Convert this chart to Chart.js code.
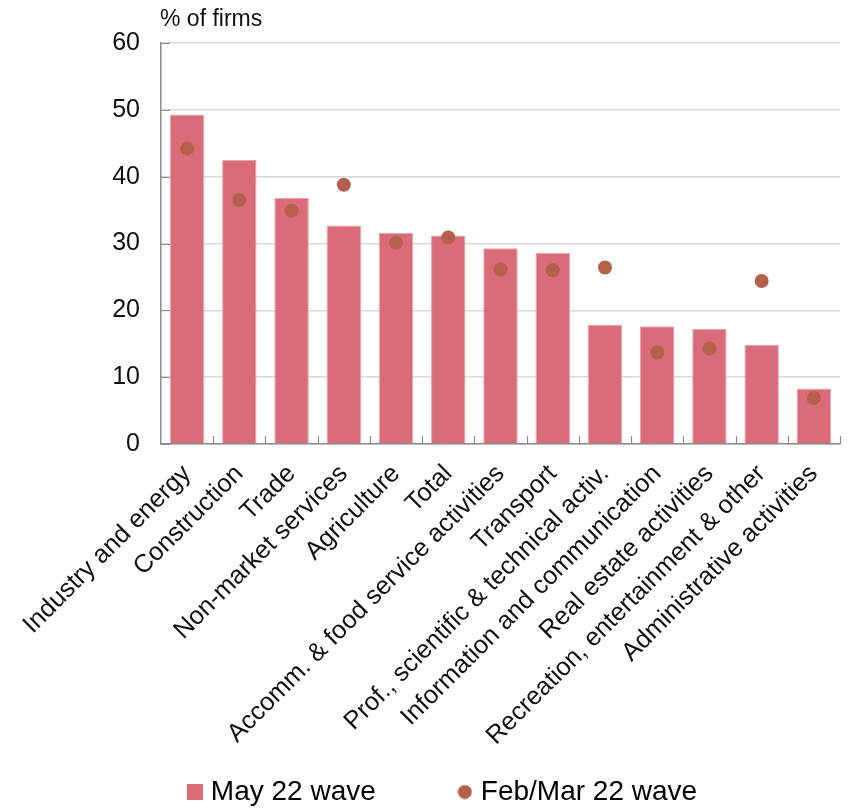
<!DOCTYPE html>
<html>
<head>
<meta charset="utf-8">
<script src="https://cdn.jsdelivr.net/npm/chart.js@4"></script>
<style>
  html, body { margin: 0; padding: 0; background: #ffffff; }
  #wrap { width: 851px; height: 808px; position: relative; }
</style>
</head>
<body>
<div id="wrap"><canvas id="chart" width="851" height="808"></canvas></div>
<script>
// Sectors, sorted by the May 22 share
const categories = [
  "Industry and energy", "Construction", "Trade", "Non-market services",
  "Agriculture", "Total", "Accomm. & food service activities", "Transport",
  "Prof., scientific & technical activ.", "Information and communication",
  "Real estate activities", "Recreation, entertainment & other",
  "Administrative activities"
];
// % of firms, May 22 wave (bars)
const mayWave = [49.3, 42.5, 36.8, 32.7, 31.6, 31.2, 29.3, 28.6, 17.8, 17.6, 17.2, 14.8, 8.3];
// % of firms, Feb/Mar 22 wave (dots)
const febMarWave = [44.2, 36.5, 34.9, 38.8, 30.1, 30.9, 26.1, 26.0, 26.4, 13.7, 14.3, 24.4, 6.9];
// Value axis
const yTicks = [0, 10, 20, 30, 40, 50, 60];
const yUnit = "% of firms";

const BAR = "#da6b78";
const DOT = "#b5604a";
const FONT = "'Liberation Sans', Arial, Helvetica, sans-serif";

// small legend markers
function marker(kind, color) {
  const c = document.createElement("canvas");
  const s = kind === "rect" ? 16 : 15;
  c.width = s; c.height = s;
  const g = c.getContext("2d");
  g.fillStyle = color;
  if (kind === "rect") {
    g.fillRect(0, 0, s, s);
  } else {
    g.beginPath(); g.arc(s / 2, s / 2, s / 2 - 0.5, 0, Math.PI * 2); g.fill();
  }
  return c;
}

// unit label above the value axis + inward tick marks
const decorations = {
  id: "decorations",
  afterLayout(chart) {
    // legend row sits close to the bottom edge, below the long slanted labels
    const lg = chart.legend;
    if (lg) lg.top = lg.bottom - 117;
  },
  afterDraw(chart) {
    const { ctx, chartArea } = chart;
    const x = chart.scales.x, y = chart.scales.y;
    ctx.save();
    ctx.font = "23px " + FONT;
    ctx.fillStyle = "#111";
    ctx.textBaseline = "alphabetic";
    ctx.textAlign = "left";
    ctx.fillText(yUnit, chartArea.left - 1, 26);

    ctx.strokeStyle = "#8c8c8c";
    ctx.lineWidth = 1.2;
    ctx.beginPath();
    yTicks.forEach(v => {
      const py = Math.round(y.getPixelForValue(v)) + 0.5;
      ctx.moveTo(chartArea.left, py);
      ctx.lineTo(chartArea.left + 9, py);
    });
    for (let i = 0; i < categories.length; i++) {
      const a = x.getPixelForValue(i), b = x.getPixelForValue(i + 1);
      const px = Math.round((a + b) / 2) + 0.5;
      ctx.moveTo(px, chartArea.bottom);
      ctx.lineTo(px, chartArea.bottom - 8);
    }
    ctx.stroke();
    ctx.restore();
  }
};

new Chart(document.getElementById("chart"), {
  data: {
    labels: categories,
    datasets: [
      {
        type: "bar",
        label: "May 22 wave",
        data: mayWave,
        backgroundColor: BAR,
        borderColor: "#eba3ad",
        borderWidth: { top: 1, left: 1, right: 1, bottom: 0 },
        barPercentage: 0.66,
        categoryPercentage: 1.0,
        order: 2
      },
      {
        type: "line",
        label: "Feb/Mar 22 wave",
        data: febMarWave,
        showLine: false,
        pointRadius: 7,
        pointHoverRadius: 7,
        pointBackgroundColor: DOT,
        pointBorderColor: DOT,
        pointBorderWidth: 0,
        backgroundColor: DOT,
        borderColor: DOT,
        pointStyle: "circle",
        order: 1
      }
    ]
  },
  options: {
    responsive: false,
    animation: false,
    events: [],
    layout: { padding: { top: 43, left: 50, right: 11, bottom: 0 } },
    plugins: {
      tooltip: { enabled: false },
      legend: {
        position: "bottom",
        maxHeight: 49,
        labels: {
          usePointStyle: true,
          padding: 87,
          boxWidth: 4,
          boxHeight: 16,
          color: "#111",
          font: { family: FONT, size: 28 },
          generateLabels(chart) {
            return chart.data.datasets.map((ds, i) => ({
              text: ds.label,
              fillStyle: i === 0 ? BAR : DOT,
              strokeStyle: i === 0 ? BAR : DOT,
              lineWidth: 0,
              pointStyle: i === 0 ? marker("rect", BAR) : marker("circle", DOT),
              datasetIndex: i,
              hidden: false
            }));
          }
        }
      }
    },
    scales: {
      x: {
        offset: true,
        grid: { display: false, drawTicks: false },
        border: { display: true, color: "#8c8c8c", width: 1.5 },
        ticks: {
          autoSkip: false,
          maxRotation: 45,
          minRotation: 45,
          padding: 15,
          color: "#111",
          font: { family: FONT, size: 25.5 }
        },
        afterFit(scale) { scale.height = 315; }
      },
      y: {
        min: 0,
        max: 60,
        afterBuildTicks(scale) { scale.ticks = yTicks.map(v => ({ value: v })); },
        grid: { color: "#d9d9d9", lineWidth: 1.5, drawTicks: false },
        border: { display: true, color: "#8c8c8c", width: 1.5 },
        ticks: {
          padding: 21,
          color: "#111",
          font: { family: FONT, size: 25 }
        },
        afterFit(scale) { scale.width = 111; }
      }
    }
  },
  plugins: [decorations]
});
</script>
</body>
</html>
